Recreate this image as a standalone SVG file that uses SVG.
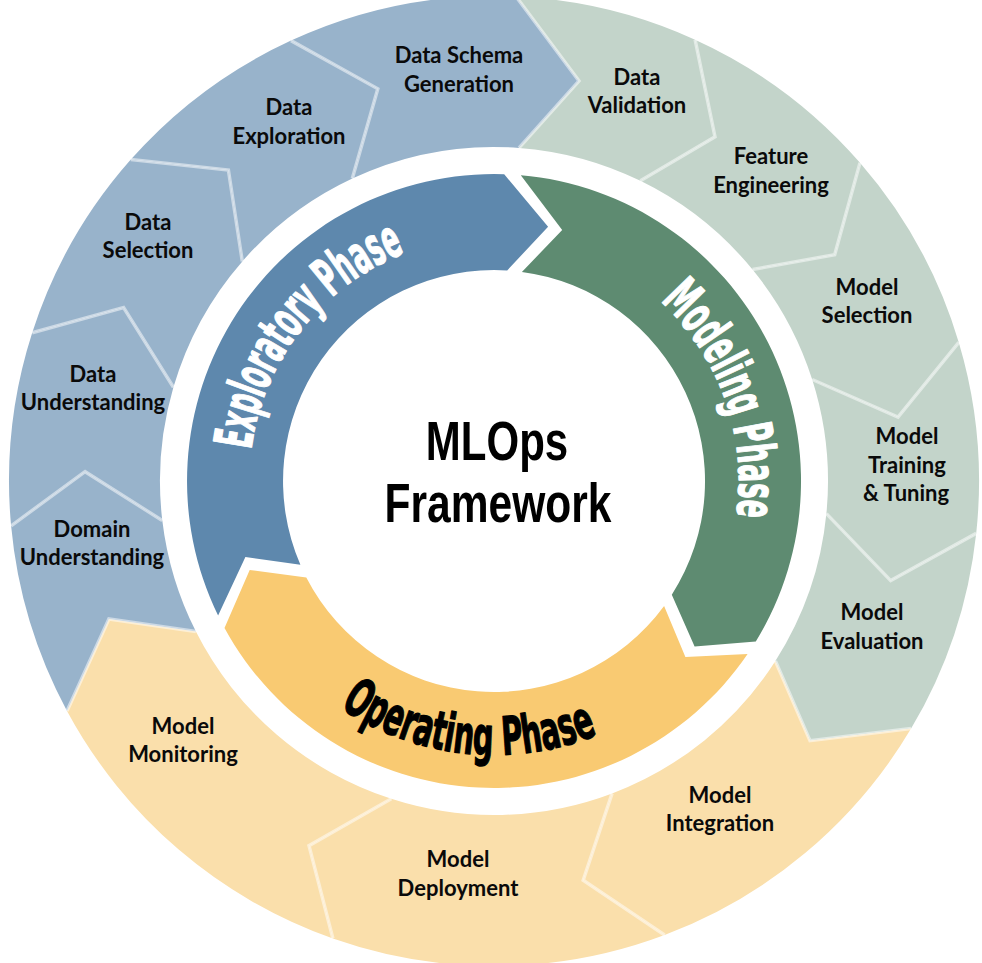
<svg xmlns="http://www.w3.org/2000/svg" xmlns:xlink="http://www.w3.org/1999/xlink" width="982" height="963" viewBox="0 0 982 963">
<style>
.lbl{font-family:Lato,"Open Sans","Liberation Sans",sans-serif;font-weight:700;font-size:22px;fill:#0a0a0a;text-anchor:middle}
.sb{fill:#98b3cb}
.sg{fill:#c3d4ca}
.so{fill:#fadfab}
.dv{fill:none;stroke:#ffffff;stroke-opacity:0.5;stroke-width:3.5;stroke-linejoin:miter}
.ph{font-family:"DejaVu Sans","Liberation Sans",sans-serif;font-weight:700;font-stretch:condensed;font-size:53px;stroke-width:1.3;stroke-linejoin:round}
.ctr{font-family:"Liberation Sans",Arial,sans-serif;font-weight:700;font-size:56px;fill:#000;text-anchor:middle}
</style>
<defs>
<path id="arcExp" d="M 254.4 531.9 A 245 245 0 0 1 485.4 236.1"/>
<path id="arcMod" d="M 579.8 251.5 A 245 245 0 0 1 705.1 605.3"/>
<path id="arcOp" d="M 243.7 592.4 A 274 274 0 0 0 715.7 642.1"/>
</defs>
<rect width="982" height="963" fill="#ffffff"/>

<g id="seg-data-schema-generation">
<path class="sb" d="M 291.0 40.6 A 485 485 0 0 1 516.0 -3.5 L 579.0 80.9 L 519.0 147.9 A 334 334 0 0 0 352.3 178.5 L 377.8 88.8 Z"/>
<text class="lbl"><tspan x="459" y="63">Data Schema</tspan><tspan x="459" y="92">Generation</tspan></text>
</g>
<g id="seg-data-validation">
<path class="sg" d="M 516.0 -3.5 A 485 485 0 0 1 695.1 39.7 L 715.0 136.8 L 640.4 180.8 A 334 334 0 0 0 519.0 147.9 L 579.0 80.9 Z"/>
<text class="lbl"><tspan x="637" y="85">Data</tspan><tspan x="637" y="113">Validation</tspan></text>
</g>
<g id="seg-feature-engineering">
<path class="sg" d="M 695.1 39.7 A 485 485 0 0 1 860.0 162.8 L 834.7 254.7 L 752.5 269.5 A 334 334 0 0 0 640.4 180.8 L 715.0 136.8 Z"/>
<text class="lbl"><tspan x="771" y="164">Feature</tspan><tspan x="771" y="193">Engineering</tspan></text>
</g>
<g id="seg-model-selection">
<path class="sg" d="M 860.0 162.8 A 485 485 0 0 1 958.8 342.4 L 898.0 417.0 L 812.2 379.5 A 334 334 0 0 0 752.5 269.5 L 834.7 254.7 Z"/>
<text class="lbl"><tspan x="867" y="295">Model</tspan><tspan x="867" y="323">Selection</tspan></text>
</g>
<g id="seg-model-training">
<path class="sg" d="M 958.8 342.4 A 485 485 0 0 1 976.2 533.4 L 890.7 580.6 L 826.4 513.6 A 334 334 0 0 0 812.2 379.5 L 898.0 417.0 Z"/>
<text class="lbl"><tspan x="907" y="444">Model</tspan><tspan x="907" y="473">Training</tspan><tspan x="906" y="501">&amp; Tuning</tspan></text>
</g>
<g id="seg-model-evaluation">
<path class="sg" d="M 976.2 533.4 A 485 485 0 0 1 911.1 728.6 L 810.0 740.7 L 775.4 661.0 A 334 334 0 0 0 826.4 513.6 L 890.7 580.6 Z"/>
<text class="lbl"><tspan x="872" y="620">Model</tspan><tspan x="872" y="649">Evaluation</tspan></text>
</g>
<g id="seg-model-integration">
<path class="so" d="M 911.1 728.6 A 485 485 0 0 1 664.6 935.0 L 583.2 880.2 L 612.1 793.4 A 334 334 0 0 0 775.4 661.0 L 810.0 740.7 Z"/>
<text class="lbl"><tspan x="720" y="803">Model</tspan><tspan x="720" y="831">Integration</tspan></text>
</g>
<g id="seg-model-deployment">
<path class="so" d="M 664.6 935.0 A 485 485 0 0 1 332.9 938.5 L 309.0 845.7 L 391.3 798.8 A 334 334 0 0 0 612.1 793.4 L 583.2 880.2 Z"/>
<text class="lbl"><tspan x="458" y="867">Model</tspan><tspan x="458" y="896">Deployment</tspan></text>
</g>
<g id="seg-model-monitoring">
<path class="so" d="M 332.9 938.5 A 485 485 0 0 1 67.0 710.9 L 108.9 618.9 L 195.9 631.6 A 334 334 0 0 0 391.3 798.8 L 309.0 845.7 Z"/>
<text class="lbl"><tspan x="183" y="734">Model</tspan><tspan x="183" y="762">Monitoring</tspan></text>
</g>
<g id="seg-domain-understanding">
<path class="sb" d="M 67.0 710.9 A 485 485 0 0 1 11.1 525.8 L 85.1 471.7 L 162.3 520.5 A 334 334 0 0 0 195.9 631.6 L 108.9 618.9 Z"/>
<text class="lbl"><tspan x="92" y="537">Domain</tspan><tspan x="92" y="565">Understanding</tspan></text>
</g>
<g id="seg-data-understanding">
<path class="sb" d="M 11.1 525.8 A 485 485 0 0 1 32.2 332.7 L 123.6 307.5 L 173.4 387.3 A 334 334 0 0 0 162.3 520.5 L 85.1 471.7 Z"/>
<text class="lbl"><tspan x="93" y="382">Data</tspan><tspan x="93" y="410">Understanding</tspan></text>
</g>
<g id="seg-data-selection">
<path class="sb" d="M 32.2 332.7 A 485 485 0 0 1 130.8 159.6 L 228.4 170.0 L 242.3 261.4 A 334 334 0 0 0 173.4 387.3 L 123.6 307.5 Z"/>
<text class="lbl"><tspan x="148" y="230">Data</tspan><tspan x="148" y="258">Selection</tspan></text>
</g>
<g id="seg-data-exploration">
<path class="sb" d="M 130.8 159.6 A 485 485 0 0 1 291.0 40.6 L 377.8 88.8 L 352.3 178.5 A 334 334 0 0 0 242.3 261.4 L 228.4 170.0 Z"/>
<text class="lbl"><tspan x="289" y="115">Data</tspan><tspan x="289" y="144">Exploration</tspan></text>
</g>

<g id="dividers">
<polyline class="dv" points="516.0,-3.5 579.0,80.9 519.0,147.9"/>
<polyline class="dv" points="695.1,39.7 715.0,136.8 640.4,180.8"/>
<polyline class="dv" points="860.0,162.8 834.7,254.7 752.5,269.5"/>
<polyline class="dv" points="958.8,342.4 898.0,417.0 812.2,379.5"/>
<polyline class="dv" points="976.2,533.4 890.7,580.6 826.4,513.6"/>
<polyline class="dv" points="911.1,728.6 810.0,740.7 775.4,661.0"/>
<polyline class="dv" points="664.6,935.0 583.2,880.2 612.1,793.4"/>
<polyline class="dv" points="332.9,938.5 309.0,845.7 391.3,798.8"/>
<polyline class="dv" points="67.0,710.9 108.9,618.9 195.9,631.6"/>
<polyline class="dv" points="11.1,525.8 85.1,471.7 162.3,520.5"/>
<polyline class="dv" points="32.2,332.7 123.6,307.5 173.4,387.3"/>
<polyline class="dv" points="130.8,159.6 228.4,170.0 242.3,261.4"/>
<polyline class="dv" points="291.0,40.6 377.8,88.8 352.3,178.5"/>
</g>

<g id="phase-exploratory">
<path fill="#5e88ad" d="M 218.1 615.6 A 307 307 0 0 1 504.2 174.2 L 548.1 226.7 L 507.2 270.4 A 211 211 0 0 0 300.4 564.8 L 245.4 557.0 Z"/>
<text class="ph" fill="#ffffff" stroke="#ffffff"><textPath xlink:href="#arcExp" href="#arcExp" startOffset="50%" text-anchor="middle" textLength="262" lengthAdjust="spacingAndGlyphs">Exploratory Phase</textPath></text>
</g>
<g id="phase-modeling">
<path fill="#5e8b71" d="M 520.8 175.2 A 307 307 0 0 1 755.8 641.4 L 694.6 646.4 L 671.8 594.7 A 211 211 0 0 0 521.9 271.9 L 562.2 230.1 Z"/>
<text class="ph" fill="#ffffff" stroke="#ffffff"><textPath xlink:href="#arcMod" href="#arcMod" startOffset="50%" text-anchor="middle" textLength="237" lengthAdjust="spacingAndGlyphs">Modeling Phase</textPath></text>
</g>
<g id="phase-operating">
<path fill="#f9ca72" d="M 747.6 654.0 A 307 307 0 0 1 224.5 628.0 L 249.7 569.9 L 306.3 577.4 A 211 211 0 0 0 664.1 605.9 L 685.4 657.0 Z"/>
<text class="ph" fill="#000000" stroke="#000000"><textPath xlink:href="#arcOp" href="#arcOp" startOffset="50%" text-anchor="middle" textLength="270" lengthAdjust="spacingAndGlyphs">Operating Phase</textPath></text>
</g>

<g id="center">
<text class="ctr" transform="translate(497,460) scale(0.75,1)">MLOps</text>
<text class="ctr" transform="translate(498,522) scale(0.76,1)">Framework</text>
</g>
</svg>
